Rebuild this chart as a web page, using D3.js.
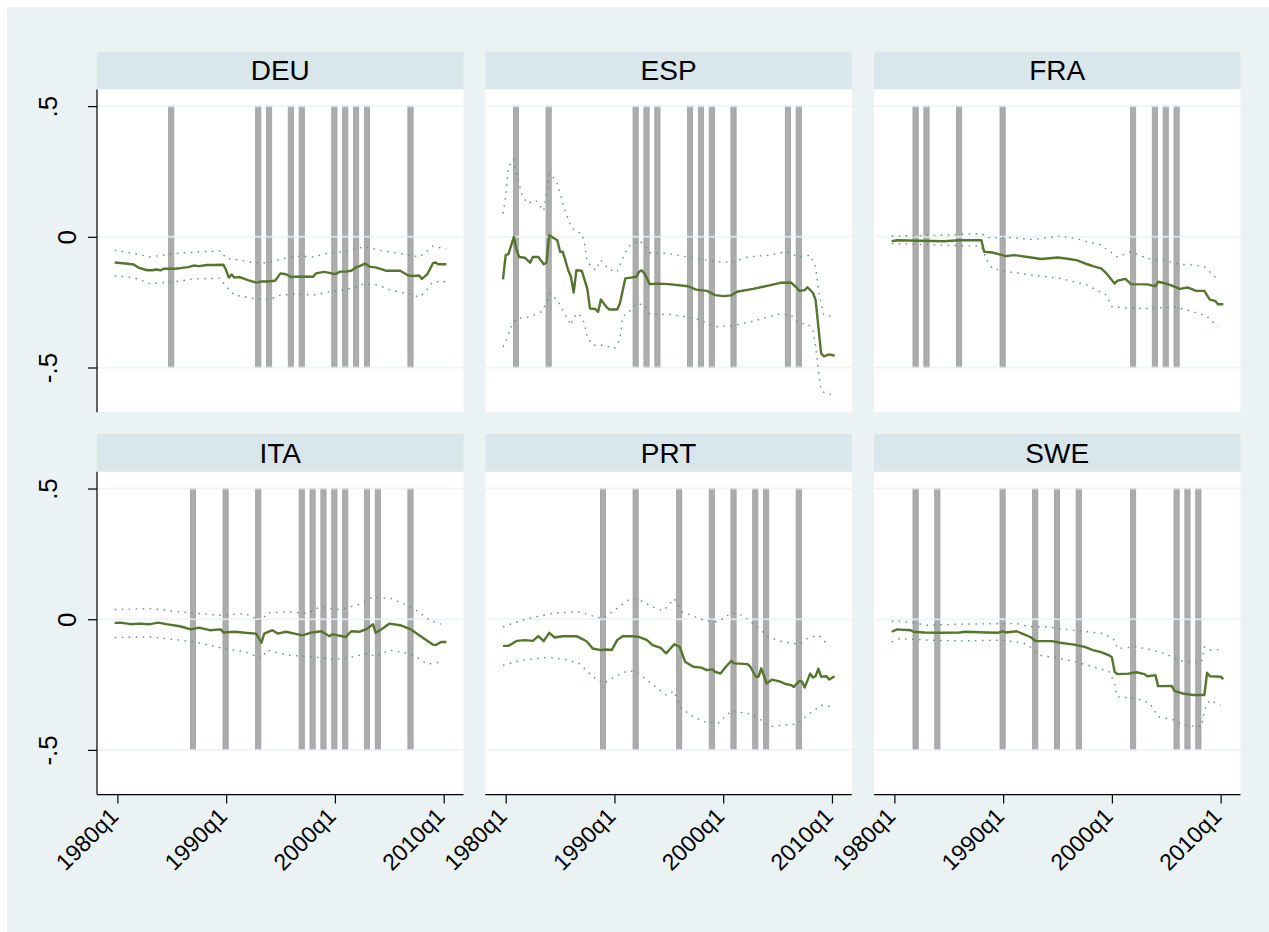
<!DOCTYPE html>
<html>
<head>
<meta charset="utf-8">
<script src="https://cdn.jsdelivr.net/npm/d3@7"></script>
<style>
  html, body { margin: 0; padding: 0; background: #ffffff; }
  svg { display: block; font-family: "Liberation Sans", Arial, sans-serif; }
</style>
</head>
<body>
<svg id="chart" width="1269" height="932"></svg>
<script>
// Time is measured in quarters since 1980q1 (0 = 1980q1, 40 = 1990q1, ...).
const countries = ["DEU", "ESP", "FRA", "ITA", "PRT", "SWE"];

const xTicks = [0, 40, 80, 120];
const xTickLabels = ["1980q1", "1990q1", "2000q1", "2010q1"];
const yTicks = [0.5, 0, -0.5];
const yTickLabels = [".5", "0", "-.5"];

// Point estimate and upper/lower confidence bounds: [quarter, value]
const DEU_est = [[-1,-.098],[3,-.102],[6,-.106],[8,-.119],[11,-.128],[13,-.128],[14,-.125],[16,-.128],[17,-.122],[21,-.122],[23,-.120],[26,-.116],[28,-.110],[30,-.112],[33,-.108],[35,-.108],[39,-.107],[40,-.128],[41,-.156],[42,-.144],[43,-.156],[45,-.154],[48,-.166],[51,-.175],[53,-.171],[55,-.171],[58,-.168],[60,-.140],[62,-.143],[64,-.154],[67,-.152],[72,-.153],[73,-.140],[76,-.134],[78,-.138],[80,-.143],[82,-.133],[84,-.133],[86,-.130],[88,-.115],[89,-.113],[91,-.102],[93,-.115],[95,-.117],[99,-.130],[104,-.130],[107,-.148],[109,-.150],[111,-.148],[112,-.161],[114,-.143],[116,-.102],[117,-.098],[118,-.105],[121,-.105]];
const DEU_hi = [[-1,-.051],[6,-.064],[12,-.077],[21,-.064],[30,-.057],[38,-.054],[40,-.083],[45,-.089],[50,-.099],[55,-.099],[59,-.089],[64,-.077],[67,-.074],[72,-.077],[77,-.064],[83,-.057],[91,-.038],[96,-.051],[104,-.064],[111,-.077],[114,-.054],[116,-.036],[118,-.041],[121,-.045]];
const DEU_lo = [[-1,-.149],[6,-.156],[12,-.179],[21,-.172],[28,-.161],[38,-.159],[40,-.191],[43,-.223],[50,-.236],[56,-.240],[60,-.223],[65,-.219],[72,-.223],[78,-.210],[86,-.198],[91,-.179],[96,-.185],[100,-.202],[107,-.219],[111,-.230],[113,-.214],[116,-.172],[121,-.172]];

const ESP_est = [[-1,-.163],[0,-.070],[1,-.066],[3,0.0],[4,-.051],[5,-.077],[7,-.080],[9,-.099],[10,-.077],[12,-.077],[14,-.105],[15,-.099],[16,.006],[19,-.013],[20,-.057],[21,-.057],[23,-.128],[24,-.153],[25,-.213],[26,-.128],[28,-.130],[30,-.198],[31,-.274],[33,-.276],[34,-.287],[35,-.240],[37,-.268],[38,-.278],[41,-.278],[42,-.255],[44,-.159],[46,-.156],[48,-.153],[49,-.135],[50,-.128],[51,-.140],[53,-.181],[56,-.179],[60,-.181],[67,-.189],[70,-.202],[74,-.207],[77,-.223],[80,-.227],[83,-.224],[85,-.210],[91,-.199],[97,-.186],[101,-.176],[105,-.175],[107,-.194],[108,-.207],[110,-.204],[111,-.193],[113,-.214],[114,-.242],[116,-.446],[117,-.457],[119,-.450],[121,-.455]];
const ESP_hi = [[-1,.089],[0,.153],[1,.268],[3,.296],[4,.242],[6,.159],[8,.128],[11,.140],[14,.099],[16,.242],[17,.236],[19,.204],[21,.128],[24,.038],[26,.019],[28,.013],[29,-.026],[30,-.096],[33,-.128],[35,-.089],[38,-.125],[41,-.134],[43,-.083],[45,-.038],[49,-.013],[51,-.032],[53,-.061],[60,-.064],[70,-.083],[78,-.096],[84,-.096],[89,-.077],[97,-.070],[103,-.057],[108,-.077],[112,-.070],[114,-.115],[115,-.204],[117,-.300],[121,-.304]];
const ESP_lo = [[-1,-.421],[0,-.402],[2,-.344],[4,-.313],[9,-.306],[13,-.287],[15,-.255],[16,-.217],[19,-.242],[21,-.281],[24,-.338],[25,-.306],[27,-.293],[29,-.332],[30,-.383],[32,-.415],[36,-.415],[40,-.427],[42,-.395],[43,-.306],[46,-.281],[48,-.255],[51,-.261],[53,-.296],[60,-.296],[70,-.313],[77,-.344],[84,-.339],[91,-.323],[100,-.296],[105,-.300],[108,-.332],[111,-.332],[113,-.357],[114,-.421],[115,-.510],[116,-.587],[118,-.602],[121,-.602]];

const FRA_est = [[-1,-.017],[1,-.013],[18,-.017],[24,-.013],[32,-.013],[33,-.057],[36,-.060],[39,-.068],[41,-.074],[44,-.070],[49,-.077],[54,-.085],[60,-.079],[63,-.083],[67,-.089],[71,-.105],[73,-.112],[76,-.121],[78,-.140],[81,-.179],[82,-.168],[85,-.161],[87,-.181],[93,-.182],[96,-.189],[97,-.172],[100,-.179],[103,-.191],[105,-.199],[108,-.194],[111,-.207],[114,-.207],[116,-.240],[118,-.245],[119,-.258],[121,-.258]];
const FRA_hi = [[-1,.003],[18,.006],[32,.013],[34,-.003],[42,-.003],[51,-.010],[61,.003],[68,-.010],[76,-.032],[82,-.077],[87,-.057],[93,-.083],[100,-.092],[105,-.105],[110,-.108],[114,-.115],[119,-.163]];
const FRA_lo = [[-1,-.026],[18,-.032],[32,-.036],[34,-.089],[36,-.121],[42,-.134],[51,-.147],[61,-.159],[71,-.185],[78,-.223],[80,-.268],[88,-.274],[95,-.274],[103,-.268],[110,-.287],[115,-.304],[119,-.344]];

const ITA_est = [[-1,-.014],[1,-.013],[5,-.019],[8,-.017],[12,-.019],[15,-.013],[18,-.019],[23,-.027],[27,-.039],[30,-.032],[34,-.042],[38,-.039],[39,-.051],[43,-.048],[47,-.052],[51,-.055],[53,-.090],[54,-.055],[57,-.042],[59,-.055],[62,-.048],[66,-.057],[68,-.062],[71,-.052],[75,-.046],[78,-.065],[79,-.057],[84,-.068],[86,-.046],[89,-.048],[92,-.036],[94,-.019],[95,-.052],[97,-.039],[100,-.017],[104,-.023],[108,-.039],[111,-.061],[116,-.097],[117,-.099],[119,-.087],[121,-.087]];
const ITA_hi = [[-1,.037],[12,.041],[23,.028],[30,.022],[38,.015],[47,.022],[53,-.008],[55,.024],[63,.028],[70,.022],[74,.045],[82,.037],[89,.057],[94,.085],[101,.079],[109,.041],[115,-.004],[119,-.019]];
const ITA_lo = [[-1,-.070],[12,-.068],[23,-.080],[30,-.090],[39,-.112],[47,-.125],[53,-.150],[55,-.118],[63,-.138],[72,-.144],[79,-.154],[84,-.150],[92,-.131],[95,-.144],[100,-.118],[106,-.129],[110,-.144],[114,-.172],[119,-.163]];

const PRT_est = [[-1,-.102],[1,-.102],[4,-.083],[7,-.080],[10,-.083],[12,-.065],[14,-.084],[16,-.052],[18,-.070],[21,-.065],[26,-.065],[29,-.080],[30,-.087],[32,-.112],[35,-.118],[37,-.116],[39,-.118],[41,-.080],[43,-.065],[47,-.065],[49,-.068],[52,-.080],[54,-.099],[57,-.110],[59,-.131],[62,-.096],[64,-.106],[66,-.163],[69,-.182],[72,-.185],[74,-.195],[76,-.192],[77,-.201],[79,-.208],[81,-.182],[83,-.159],[84,-.169],[89,-.172],[90,-.182],[92,-.220],[93,-.220],[94,-.188],[96,-.246],[98,-.231],[101,-.239],[103,-.248],[105,-.252],[106,-.259],[108,-.236],[109,-.239],[110,-.261],[112,-.208],[113,-.223],[114,-.218],[115,-.189],[116,-.220],[118,-.218],[119,-.231],[121,-.218]];
const PRT_hi = [[-1,-.029],[6,-.004],[11,.009],[18,.024],[27,.028],[33,.009],[36,.003],[40,.034],[45,.073],[49,.075],[54,.047],[58,.032],[62,.079],[65,.028],[73,-.004],[78,-.010],[83,.024],[87,.015],[91,-.017],[94,-.042],[96,-.065],[102,-.087],[108,-.096],[111,-.074],[115,-.061],[119,-.103]];
const PRT_lo = [[-1,-.176],[6,-.157],[15,-.146],[22,-.154],[27,-.169],[32,-.220],[36,-.246],[40,-.220],[45,-.197],[48,-.201],[52,-.233],[56,-.265],[59,-.290],[62,-.274],[64,-.335],[68,-.367],[73,-.392],[78,-.399],[83,-.350],[90,-.363],[94,-.386],[97,-.411],[102,-.405],[107,-.401],[111,-.367],[116,-.329],[120,-.335]];

const SWE_est = [[-1,-.048],[1,-.039],[6,-.042],[7,-.048],[11,-.051],[17,-.052],[24,-.051],[26,-.048],[34,-.051],[38,-.052],[40,-.046],[41,-.051],[45,-.046],[47,-.055],[50,-.068],[52,-.084],[58,-.084],[61,-.090],[66,-.097],[70,-.106],[73,-.118],[76,-.126],[79,-.138],[80,-.146],[81,-.201],[82,-.210],[86,-.208],[89,-.203],[92,-.210],[93,-.218],[96,-.214],[97,-.256],[102,-.255],[103,-.274],[106,-.284],[110,-.290],[114,-.290],[115,-.205],[116,-.218],[120,-.220],[121,-.229]];
const SWE_hi = [[-1,-.008],[2,-.008],[7,-.014],[12,-.023],[24,-.019],[39,-.017],[45,-.017],[50,-.029],[56,-.029],[63,-.039],[71,-.048],[77,-.055],[81,-.080],[82,-.112],[89,-.106],[95,-.118],[100,-.134],[105,-.159],[111,-.166],[113,-.163],[114,-.106],[116,-.118],[120,-.116]];
const SWE_lo = [[-1,-.087],[2,-.074],[12,-.080],[24,-.083],[39,-.080],[45,-.087],[49,-.096],[51,-.118],[54,-.139],[61,-.150],[68,-.167],[73,-.182],[79,-.201],[81,-.246],[82,-.297],[89,-.303],[94,-.322],[97,-.373],[103,-.386],[106,-.405],[113,-.411],[114,-.348],[116,-.310],[120,-.329]];

// Years marked with a vertical band (placed at the first quarter of the year)
const DEU_years = [1985, 1993, 1994, 1996, 1997, 2000, 2001, 2002, 2003, 2007];
const ESP_years = [1981, 1984, 1992, 1993, 1994, 1997, 1998, 1999, 2001, 2006, 2007];
const FRA_years = [1982, 1983, 1986, 1990, 2002, 2004, 2005, 2006];
const ITA_years = [1987, 1990, 1993, 1997, 1998, 1999, 2000, 2001, 2003, 2004, 2007];
const PRT_years = [1989, 1992, 1996, 1999, 2001, 2003, 2004, 2007];
const SWE_years = [1982, 1984, 1990, 1993, 1995, 1997, 2002, 2006, 2007, 2008];

const panels = {
  DEU: { est: DEU_est, hi: DEU_hi, lo: DEU_lo, years: DEU_years },
  ESP: { est: ESP_est, hi: ESP_hi, lo: ESP_lo, years: ESP_years },
  FRA: { est: FRA_est, hi: FRA_hi, lo: FRA_lo, years: FRA_years },
  ITA: { est: ITA_est, hi: ITA_hi, lo: ITA_lo, years: ITA_years },
  PRT: { est: PRT_est, hi: PRT_hi, lo: PRT_lo, years: PRT_years },
  SWE: { est: SWE_est, hi: SWE_hi, lo: SWE_lo, years: SWE_years }
};

// Layout
const colX = [97, 485.3, 874];
const rowY = [51.6, 434];
const panelW = 366.5;
const headH = 37.8;
const plotH = 322.8;

const colors = {
  outer: "#eaf2f3",
  head: "#d9e6eb",
  grid: "#eaf2f3",
  band: "#acacac",
  bandEdge: "#9d9d9d",
  est: "#55752f",
  ci: "#6e8e84"
};

const svg = d3.select("#chart");
svg.append("rect").attr("x", 7).attr("y", 7).attr("width", 1262).attr("height", 925).attr("fill", colors.outer);

const x = d3.scaleLinear().domain([-7.5, 127.3]).range([0, panelW]);
const y = d3.scaleLinear().domain([-0.671, 0.564]).range([plotH, 0]);

const line = d3.line().x(d => x(d[0])).y(d => y(d[1]));

countries.forEach((c, i) => {
  const col = i % 3, row = Math.floor(i / 3);
  const p = panels[c];
  const g = svg.append("g").attr("transform", `translate(${colX[col]},${rowY[row]})`);

  // header strip
  g.append("rect").attr("width", panelW).attr("height", headH).attr("fill", colors.head);
  g.append("text")
    .attr("x", panelW / 2).attr("y", headH / 2 + 10)
    .attr("text-anchor", "middle")
    .attr("font-size", 28).attr("fill", "#000")
    .text(c);

  const pg = g.append("g").attr("transform", `translate(0,${headH})`);
  pg.append("rect").attr("width", panelW).attr("height", plotH).attr("fill", "#fff");

  // vertical bands
  pg.selectAll("rect.band").data(p.years).join("rect")
    .attr("class", "band")
    .attr("x", d => x((d - 1980) * 4 - 0.2) - 2.6)
    .attr("width", 5.2)
    .attr("y", y(0.5))
    .attr("height", y(-0.5) - y(0.5))
    .attr("fill", colors.band)
    .attr("stroke", colors.bandEdge)
    .attr("stroke-width", 0.8);

  // horizontal grid
  pg.selectAll("line.grid").data(yTicks).join("line")
    .attr("class", "grid")
    .attr("x1", 0).attr("x2", panelW)
    .attr("y1", d => y(d)).attr("y2", d => y(d))
    .attr("stroke", colors.grid).attr("stroke-width", 2)
    .attr("stroke-opacity", 0.75);

  // confidence bounds
  [p.hi, p.lo].forEach(s => {
    pg.append("path").datum(s)
      .attr("d", line)
      .attr("fill", "none")
      .attr("stroke", colors.ci)
      .attr("stroke-width", 1.4)
      .attr("stroke-dasharray", "1.6,5.4");
  });

  // point estimate
  pg.append("path").datum(p.est)
    .attr("d", line)
    .attr("fill", "none")
    .attr("stroke", colors.est)
    .attr("stroke-width", 2.4)
    .attr("stroke-linejoin", "round");

  // y axis on the left column
  if (col === 0) {
    const ya = pg.append("g").call(
      d3.axisLeft(y).tickValues(yTicks).tickSize(9).tickPadding(0)
        .tickFormat((d, k) => yTickLabels[k])
    );
    ya.select(".domain").attr("d", `M0,0V${plotH}`).attr("stroke", "#000").attr("stroke-width", 1.2);
    ya.selectAll(".tick line").attr("stroke", "#000").attr("stroke-width", 1.2);
    ya.selectAll(".tick text")
      .attr("font-size", 26).attr("font-family", "Liberation Sans, Arial, sans-serif").attr("fill", "#000")
      .attr("text-anchor", "middle")
      .attr("x", 0).attr("dy", 0).attr("y", 0)
      .attr("transform", (d, k) => `translate(${yTickLabels[k] === "0" ? -21 : -40},0) rotate(-90)`);
  }

  // x axis on the bottom row
  if (row === 1) {
    const xa = pg.append("g").attr("transform", `translate(0,${plotH})`).call(
      d3.axisBottom(x).tickValues(xTicks).tickSize(9).tickPadding(0)
        .tickFormat((d, k) => xTickLabels[k])
    );
    xa.select(".domain").attr("d", `M0,0H${panelW}`).attr("stroke", "#000").attr("stroke-width", 1.2);
    xa.selectAll(".tick line").attr("stroke", "#000").attr("stroke-width", 1.2);
    xa.selectAll(".tick text")
      .attr("font-size", 23).attr("font-family", "Liberation Sans, Arial, sans-serif").attr("fill", "#000")
      .attr("text-anchor", "end")
      .attr("x", 0).attr("y", 0).attr("dy", 0)
      .attr("transform", "translate(2,23) rotate(-45)");
  }
});
</script>
</body>
</html>
